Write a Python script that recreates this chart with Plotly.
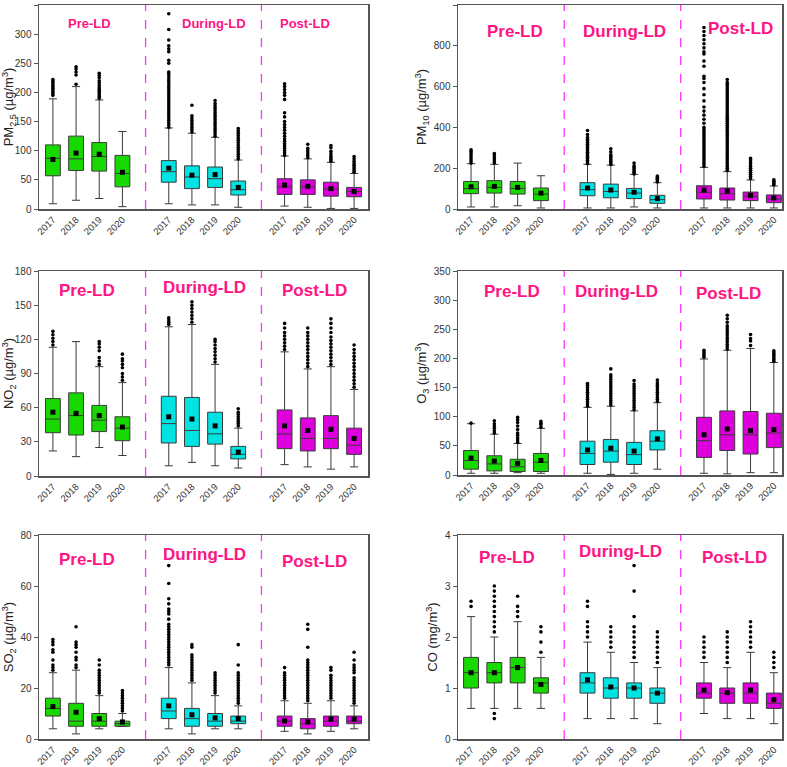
import plotly.graph_objects as go

years = ["2017", "2018", "2019", "2020"]
periods = ["Pre-LD", "During-LD", "Post-LD"]

# ---------------- PM2.5 ----------------
pm25_q1 = [57, 66, 65, 38, 46, 35, 37, 24, 25, 25, 22, 21]
pm25_med = [87, 86, 90, 61, 64, 55, 52, 33, 38, 38, 34, 30]
pm25_q3 = [110, 125, 114, 92, 83, 74, 72, 48, 52, 50, 46, 37]
pm25_lo = [9, 15, 18, 4, 9, 7, 7, 3, 5, 3, 1, 1]
pm25_hi = [189, 210, 187, 133, 139, 130, 123, 84, 91, 86, 80, 61]
pm25_mean = [85, 96, 94, 63, 70, 58, 59, 37, 41, 39, 35, 30]
pm25_out = [
    [195, 198, 201, 204, 207, 210, 213, 216, 219, 222],
    [214, 230, 235, 240, 244],
    [190, 193, 196, 199, 202, 205, 208, 212, 216, 220, 225, 229, 233],
    [],
    [140, 144, 148, 152, 156, 160, 164, 168, 172, 176, 180, 184, 188, 192, 196, 200, 204,
     208, 212, 216, 220, 224, 228, 232, 235, 250, 255, 270, 275, 280, 290, 308, 335],
    [132, 136, 140, 144, 148, 152, 156, 160, 178],
    [125, 129, 133, 137, 141, 145, 149, 153, 157, 161, 165, 169, 173, 177, 181, 186],
    [86, 90, 94, 98, 102, 106, 110, 114, 118, 122, 126, 130, 134, 138],
    [92, 96, 100, 104, 108, 112, 116, 120, 125, 130, 135, 140, 145, 150, 158, 165,
     188, 195, 200, 205, 210, 215],
    [88, 92, 96, 100, 104, 111],
    [82, 85, 88, 91, 95, 99, 105, 109],
    [63, 66, 69, 72, 75, 78, 82, 86, 90],
]

# ---------------- PM10 ----------------
pm10_q1 = [75, 78, 73, 41, 65, 55, 51, 28, 49, 44, 41, 31]
pm10_med = [100, 106, 101, 73, 95, 86, 78, 46, 82, 75, 62, 49]
pm10_q3 = [135, 139, 135, 103, 129, 122, 101, 67, 114, 103, 83, 69]
pm10_lo = [10, 10, 16, 5, 5, 5, 10, 5, 5, 5, 5, 5]
pm10_hi = [222, 219, 225, 163, 219, 215, 170, 129, 204, 183, 142, 113]
pm10_mean = [109, 111, 106, 78, 103, 93, 82, 51, 93, 88, 67, 54]
pm10_out = [
    [225, 235, 245, 255, 265, 275, 282, 290],
    [225, 235, 245, 255, 265, 272],
    [],
    [],
    [222, 230, 238, 246, 254, 262, 270, 278, 286, 294, 302, 310, 318, 326, 334, 342, 350, 365, 385],
    [218, 226, 234, 242, 250, 258, 266, 280, 295],
    [172, 180, 188, 196, 204, 212, 225],
    [132, 138, 144, 150, 156, 162],
    [210, 220, 230, 240, 250, 260, 270, 280, 290, 300, 310, 320, 330, 340, 350, 360, 370,
     380, 390, 400, 420, 440, 460, 480, 500, 530, 560, 590, 620, 640, 650, 700, 725, 760,
     770, 790, 810, 830, 850, 870, 890],
    [190, 200, 210, 220, 230, 240, 250, 260, 270, 280, 290, 300, 310, 320, 330, 340, 350,
     360, 370, 380, 390, 400, 410, 420, 430, 440, 450, 460, 470, 480, 490, 500, 510, 520,
     530, 540, 550, 560, 570, 580, 590, 600, 610, 620, 635],
    [150, 160, 170, 180, 190, 200, 210, 220, 230, 240, 248],
    [118, 124, 130, 136, 143],
]

# ---------------- NO2 ----------------
no2_q1 = [38, 36, 39, 31, 29, 26, 28, 15, 24, 22, 24, 19]
no2_med = [50, 53, 49, 42, 46, 40, 37, 19, 37, 33, 33, 27]
no2_q3 = [68, 73, 62, 52, 70, 69, 56, 26, 58, 51, 53, 42]
no2_lo = [22, 17, 25, 18, 9, 12, 9, 7, 10, 8, 6, 8]
no2_hi = [113, 118, 96, 82, 131, 133, 98, 42, 109, 94, 96, 76]
no2_mean = [56, 55, 53, 43, 52, 50, 44, 21, 44, 40, 41, 33]
no2_out = [
    [115, 118, 121, 124, 127],
    [],
    [98, 101, 104, 110, 113, 116, 118],
    [84, 87, 90, 95, 98, 101, 103, 107],
    [133, 135, 137, 139],
    [135, 138, 141, 144, 147, 150, 153],
    [100, 103, 106, 109, 112, 115, 118, 120],
    [44, 46, 48, 50, 52, 54, 56, 59],
    [111, 114, 117, 120, 123, 126, 130, 134],
    [96, 99, 102, 105, 108, 111, 114, 117, 120, 123, 126, 130],
    [98, 101, 104, 107, 110, 113, 116, 119, 122, 126, 130, 134, 138],
    [78, 81, 84, 87, 90, 93, 96, 99, 102, 105, 108, 111, 115],
]

# ---------------- O3 ----------------
o3_q1 = [10, 7, 6, 6, 18, 22, 18, 43, 30, 42, 36, 47]
o3_med = [25, 19, 14, 22, 37, 41, 35, 58, 59, 69, 69, 72]
o3_q3 = [42, 33, 27, 37, 58, 61, 56, 76, 99, 110, 109, 106]
o3_lo = [3, 3, 4, 3, 3, 1, 3, 10, 3, 2, 4, 4]
o3_hi = [88, 70, 54, 80, 116, 118, 110, 124, 199, 214, 217, 193]
o3_mean = [29, 24, 20, 25, 43, 46, 41, 62, 69, 79, 76, 78]
o3_out = [
    [89],
    [72, 76, 80, 84, 88, 93],
    [56, 60, 64, 68, 72, 78, 84, 90, 95, 99],
    [82, 86, 89, 92],
    [118, 122, 126, 130, 134, 138, 142, 146, 150, 154, 157],
    [120, 124, 128, 132, 136, 140, 144, 148, 152, 156, 160, 164, 168, 172, 182],
    [112, 116, 120, 124, 128, 132, 136, 140, 144, 148, 152, 156, 162],
    [126, 130, 134, 138, 142, 146, 150, 154, 158, 163],
    [202, 205, 208, 211, 214],
    [216, 220, 224, 228, 232, 236, 240, 244, 248, 252, 256, 262, 268, 274],
    [222, 230, 234, 241],
    [195, 198, 201, 204, 207, 210, 213],
]

# ---------------- SO2 ----------------
so2_q1 = [9, 5, 5, 5, 8, 5, 5, 6, 5, 4, 5, 6]
so2_med = [12, 7, 7, 6, 11, 8, 7, 7, 7, 6, 7, 7]
so2_q3 = [16, 14, 10, 7, 16, 12, 10, 9, 9, 8, 9, 9]
so2_lo = [4, 2, 4, 5, 4, 2, 4, 4, 3, 2, 3, 4]
so2_hi = [26, 27, 17, 10, 28, 22, 17, 13, 15, 14, 15, 13]
so2_mean = [12.7, 10.5, 8, 6.7, 13, 9.5, 8.3, 8, 7.1, 6.7, 7.8, 7.8]
so2_out = [
    [27, 28, 29, 31, 34, 35, 37, 38, 39],
    [28, 29, 31, 32, 34, 36, 37, 38, 44],
    [18, 19, 20, 21, 22, 23, 24, 25, 26, 27, 29, 31],
    [11, 12, 13, 14, 15, 16, 17, 18, 19],
    [29, 30, 31, 32, 33, 34, 35, 36, 37, 38, 39, 40, 41, 42, 43, 44, 45, 47, 49, 50, 51,
     53, 55, 61, 68],
    [23, 24, 25, 26, 27, 28, 29, 30, 31, 32, 33, 36, 37],
    [18, 19, 20, 21, 22, 23, 24, 25, 26],
    [14, 15, 16, 17, 18, 19, 20, 21, 22, 23, 24, 25, 26, 29, 37],
    [16, 17, 18, 19, 20, 21, 22, 23, 24, 25, 26, 28],
    [15, 16, 17, 18, 19, 20, 21, 22, 23, 24, 25, 26, 27, 28, 29, 30, 31, 36, 43, 45],
    [16, 17, 18, 19, 20, 21, 22, 23, 24, 25, 27, 28],
    [14, 15, 16, 17, 18, 19, 20, 21, 22, 23, 24, 26, 27, 28, 29, 31, 34],
]

# ---------------- CO ----------------
co_q1 = [1.0, 1.1, 1.1, 0.9, 0.9, 0.8, 0.8, 0.7, 0.8, 0.7, 0.7, 0.6]
co_med = [1.3, 1.3, 1.4, 1.1, 1.1, 1.0, 1.0, 0.9, 0.9, 0.9, 0.9, 0.7]
co_q3 = [1.6, 1.5, 1.6, 1.2, 1.3, 1.2, 1.1, 1.0, 1.1, 1.0, 1.1, 0.9]
co_lo = [0.6, 0.6, 0.6, 0.6, 0.4, 0.4, 0.4, 0.3, 0.5, 0.4, 0.4, 0.3]
co_hi = [2.4, 2.0, 2.3, 1.6, 1.9, 1.7, 1.5, 1.4, 1.5, 1.4, 1.7, 1.3]
co_mean = [1.3, 1.3, 1.4, 1.07, 1.16, 1.02, 1.0, 0.9, 0.96, 0.91, 0.96, 0.77]
co_out = [
    [2.6, 2.7],
    [0.4, 0.5, 2.1, 2.2, 2.3, 2.4, 2.5, 2.6, 2.7, 2.8, 2.9, 3.0],
    [2.4, 2.5, 2.6, 2.8],
    [1.7, 1.9, 2.1, 2.2],
    [2.0, 2.1, 2.2, 2.3, 2.6, 2.7],
    [1.8, 1.9, 2.0, 2.1, 2.2],
    [1.6, 1.7, 1.8, 1.9, 2.0, 2.1, 2.2, 2.4, 2.9, 3.4],
    [1.5, 1.6, 1.7, 1.8, 1.9, 2.0, 2.1],
    [1.6, 1.7, 1.8, 1.9, 2.0],
    [1.5, 1.6, 1.7, 1.8, 1.9, 2.0, 2.1],
    [1.8, 1.9, 2.0, 2.1, 2.2, 2.3],
    [1.4, 1.5, 1.6, 1.7],
]

y_titles = [
    "PM<sub>2.5</sub> (µg/m<sup>3</sup>)",
    "PM<sub>10</sub> (µg/m<sup>3</sup>)",
    "NO<sub>2</sub> (µg/m<sup>3</sup>)",
    "O<sub>3</sub> (µg/m<sup>3</sup>)",
    "SO<sub>2</sub> (µg/m<sup>3</sup>)",
    "CO (mg/m<sup>3</sup>)",
]
y_max = [350, 1000, 180, 350, 80, 4]
y_step = [50, 200, 30, 50, 20, 1]

panels = [
    (pm25_q1, pm25_med, pm25_q3, pm25_lo, pm25_hi, pm25_mean, pm25_out),
    (pm10_q1, pm10_med, pm10_q3, pm10_lo, pm10_hi, pm10_mean, pm10_out),
    (no2_q1, no2_med, no2_q3, no2_lo, no2_hi, no2_mean, no2_out),
    (o3_q1, o3_med, o3_q3, o3_lo, o3_hi, o3_mean, o3_out),
    (so2_q1, so2_med, so2_q3, so2_lo, so2_hi, so2_mean, so2_out),
    (co_q1, co_med, co_q3, co_lo, co_hi, co_mean, co_out),
]

# ---------------- layout / style ----------------
W, H = 787, 767
FONT = "Liberation Sans, Arial, sans-serif"
fills = ["#17D900", "#00E3E3", "#DD00DD"]
label_color = "#FF1483"

def px_x(a, b):
    return [a / W, b / W]

def px_y(top, bottom):
    return [1 - bottom / H, 1 - top / H]

domains = [
    (px_x(39, 368), px_y(5, 209)),
    (px_x(458, 782), px_y(5, 209)),
    (px_x(39, 368), px_y(271, 476)),
    (px_x(458, 782), px_y(271, 475)),
    (px_x(39, 368), px_y(535, 739)),
    (px_x(458, 782), px_y(535, 739)),
]
x_ranges = [[-0.6, 13.6], [-0.56, 13.35]] * 3
label_size = [13, 17, 17, 17, 17, 17]
label_pos = [
    [(1.6, 0.91), (6.95, 0.91), (10.9, 0.91)],
    [(1.88, 0.87), (6.6, 0.87), (11.55, 0.885)],
    [(1.47, 0.905), (6.56, 0.92), (11.27, 0.905)],
    [(1.76, 0.90), (6.25, 0.90), (11.07, 0.89)],
    [(1.47, 0.88), (6.56, 0.905), (11.27, 0.87)],
    [(1.55, 0.89), (6.4, 0.92), (11.3, 0.89)],
]

positions = [g * 5 + i for g in range(3) for i in range(4)]

fig = go.Figure()
layout = dict(
    width=W, height=H, margin=dict(l=0, r=0, t=0, b=0, autoexpand=False),
    paper_bgcolor="white", plot_bgcolor="white", showlegend=False,
    font=dict(family=FONT, color="#333"), boxmode="overlay",
)
shapes, annotations = [], []

for k, (q1, med, q3, lo, hi, mean, outs) in enumerate(panels):
    s = "" if k == 0 else str(k + 1)
    xa, ya = "x" + s, "y" + s
    for g in range(3):
        sl = slice(g * 4, g * 4 + 4)
        fig.add_trace(go.Box(
            x=positions[sl], q1=q1[sl], median=med[sl], q3=q3[sl],
            lowerfence=lo[sl], upperfence=hi[sl],
            fillcolor=fills[g], line=dict(color="#3a3a3a", width=1),
            width=0.64, whiskerwidth=0.55, boxpoints=False,
            xaxis=xa, yaxis=ya, hoverinfo="skip",
        ))
    ox, oy = [], []
    for p, vals in zip(positions, outs):
        for v in vals:
            ox.append(p)
            oy.append(v)
    fig.add_trace(go.Scatter(
        x=ox, y=oy, mode="markers", xaxis=xa, yaxis=ya,
        marker=dict(symbol="circle", size=3.6, color="black"), hoverinfo="skip",
    ))
    fig.add_trace(go.Scatter(
        x=positions, y=mean, mode="markers", xaxis=xa, yaxis=ya,
        marker=dict(symbol="square", size=5, color="black"), hoverinfo="skip",
    ))

    dx, dy = domains[k]
    axis_common = dict(showline=True, mirror=True, linecolor="#555", linewidth=1.5,
                       showgrid=False, zeroline=False, automargin=False)
    layout["xaxis" + s] = dict(
        domain=dx, range=x_ranges[k], tickmode="array", tickvals=positions,
        ticktext=years * 3, tickangle=-45, ticks="", anchor=ya,
        tickfont=dict(size=9.5, color="#333", family=FONT), **axis_common,
    )
    layout["yaxis" + s] = dict(
        domain=dy, range=[0, y_max[k]], dtick=y_step[k], tick0=0, anchor=xa,
        ticks="outside", ticklen=4, tickcolor="#555",
        tickfont=dict(size=10, color="#333", family=FONT),
        title=dict(text=y_titles[k], font=dict(size=13, color="#222", family=FONT),
                   standoff=4),
        **axis_common,
    )
    for xv in (4, 9):
        shapes.append(dict(type="line", xref=xa, yref=ya + " domain", x0=xv, x1=xv,
                           y0=0, y1=1, line=dict(color="#FF33FF", width=1.3, dash="dash")))
    for g, (lx, ly) in enumerate(label_pos[k]):
        annotations.append(dict(
            text="<b>" + periods[g] + "</b>", xref=xa, yref=ya + " domain",
            x=lx, y=ly, showarrow=False, xanchor="center", yanchor="middle",
            font=dict(size=label_size[k], color=label_color, family=FONT),
        ))

layout["shapes"] = shapes
layout["annotations"] = annotations
fig.update_layout(**layout)
fig.write_html(
    "out.html",
    config={"displayModeBar": False, "staticPlot": True},
    post_script="document.body.style.margin='0';document.body.style.overflow='hidden';",
)
